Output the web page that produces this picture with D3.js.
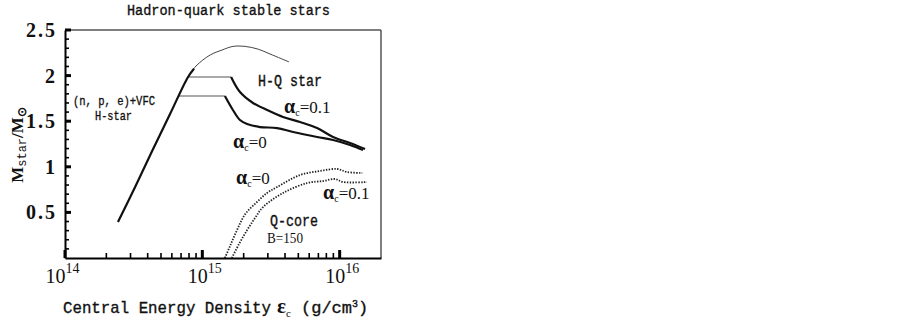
<!DOCTYPE html>
<html>
<head>
<meta charset="utf-8">
<script src="https://cdn.jsdelivr.net/npm/d3@7"></script>
<style>
  body { margin: 0; background: #fff; }
  text { font-family: "Liberation Mono", monospace; fill: #111; }
</style>
</head>
<body>
<div id="chart"></div>
<script>
// central energy density (g/cm^3) and mass (M_sun)

// (n,p,e)+VFC H-star branch, thick part
var hstar_eps = [2.43e14, 3.24e14, 4.31e14, 5.82e14, 7.87e14, 8.7e14];
var hstar_m   = [0.395, 0.778, 1.173, 1.579, 1.985, 2.075];
// thin continuation of the H-star branch
var hthin_eps = [7.87e14, 9.0e14, 1.14e15, 1.39e15, 1.67e15, 2.05e15, 2.55e15, 3.11e15, 4.28e15];
var hthin_m   = [1.985, 2.105, 2.226, 2.28, 2.32, 2.32, 2.29, 2.237, 2.15];

// H-Q star plateaus (mixed phase onset)
var plat01_eps = [7.87e14, 1.62e15];
var plat01_m   = [1.985, 1.985];
var plat0_eps  = [6.7e14, 1.46e15];
var plat0_m    = [1.776, 1.776];

// H-Q star, alpha_c = 0.1
var hq01_eps = [1.62e15, 1.88e15, 2.34e15, 2.96e15, 3.87e15, 5.15e15, 6.85e15, 8.95e15, 1.19e16, 1.53e16];
var hq01_m   = [1.985, 1.82, 1.70, 1.623, 1.546, 1.491, 1.425, 1.327, 1.261, 1.195];
// H-Q star, alpha_c = 0
var hq0_eps = [1.46e15, 1.67e15, 1.88e15, 2.12e15, 2.63e15, 3.50e15, 4.58e15, 6.85e15, 8.95e15, 1.19e16, 1.48e16];
var hq0_m   = [1.776, 1.623, 1.513, 1.469, 1.436, 1.425, 1.382, 1.327, 1.294, 1.239, 1.184];

// quark core mass, B=150
var qc0_eps = [1.46e15, 1.59e15, 1.79e15, 2.05e15, 2.50e15, 2.96e15, 3.50e15, 5.15e15, 7.20e15, 9.57e15, 1.13e16, 1.46e16];
var qc0_m   = [0.0, 0.13, 0.307, 0.48, 0.614, 0.713, 0.778, 0.91, 0.954, 0.976, 0.943, 0.932];
var qc01_eps = [1.64e15, 1.85e15, 2.12e15, 2.42e15, 2.77e15, 3.87e15, 5.80e15, 7.57e15, 9.25e15, 1.06e16, 1.58e16];
var qc01_m   = [0.0, 0.153, 0.307, 0.439, 0.559, 0.713, 0.822, 0.844, 0.866, 0.833, 0.833];

// axis ticks
var x_major = [1e14, 1e15, 1e16];
var x_labels = ["14", "15", "16"];
var y_major = [0.5, 1, 1.5, 2, 2.5];

var W = 903, H = 323;
var mLeft = 65, mRight = 381, mTop = 30, mBottom = 258;

var x = d3.scaleLog().domain([1e14, 2e16]).range([mLeft, mRight]);
var y = d3.scaleLinear().domain([0, 2.5]).range([mBottom, mTop]);

var svg = d3.select("#chart").append("svg")
  .attr("width", W)
  .attr("height", H)
  .style("background", "#fff");

function zip(a, b) { return a.map(function(d, i) { return [d, b[i]]; }); }

var line = d3.line()
  .x(function(d) { return x(d[0]); })
  .y(function(d) { return y(d[1]); })
  .curve(d3.curveCatmullRom);

// frame: top and right are lighter
svg.append("line").attr("x1", mLeft).attr("x2", mRight).attr("y1", mTop).attr("y2", mTop)
  .attr("stroke", "#555").attr("stroke-width", 1.5);
svg.append("line").attr("x1", mRight).attr("x2", mRight).attr("y1", mTop).attr("y2", mBottom)
  .attr("stroke", "#555").attr("stroke-width", 1.5);

// curves
function drawLine(xs, ys, width, color, dash) {
  svg.append("path")
    .datum(zip(xs, ys))
    .attr("d", line)
    .attr("fill", "none")
    .attr("stroke", color)
    .attr("stroke-width", width)
    .attr("stroke-dasharray", dash || null);
}

drawLine(hthin_eps, hthin_m, 1, "#444");
drawLine(plat01_eps, plat01_m, 1.1, "#555");
drawLine(plat0_eps, plat0_m, 1.1, "#555");
drawLine(hstar_eps, hstar_m, 2.2, "#111");
drawLine(hq01_eps, hq01_m, 2.2, "#111");
drawLine(hq0_eps, hq0_m, 2.2, "#111");
drawLine(qc0_eps, qc0_m, 1.8, "#222", "1.4,1.4");
drawLine(qc01_eps, qc01_m, 1.8, "#222", "1.4,1.4");

// inward tick marks, placed with the scales
var x_minor = [];
[1e14, 1e15].forEach(function(dec) {
  for (var k = 2; k <= 9; k++) x_minor.push(k * dec);
});
var y_minor = d3.range(1, 25).filter(function(i) { return i % 5 != 0; }).map(function(i) { return i / 10; });

function xTicks(vals, len, w) {
  svg.append("g").selectAll("line").data(vals).enter().append("line")
    .attr("x1", function(d) { return x(d); }).attr("x2", function(d) { return x(d); })
    .attr("y1", mBottom).attr("y2", mBottom - len)
    .attr("stroke", "#000").attr("stroke-width", w);
}
function yTicks(vals, len, w) {
  svg.append("g").selectAll("line").data(vals).enter().append("line")
    .attr("y1", function(d) { return y(d); }).attr("y2", function(d) { return y(d); })
    .attr("x1", mLeft).attr("x2", mLeft + len)
    .attr("stroke", "#000").attr("stroke-width", w);
}
xTicks(x_minor, 5, 1.6);
xTicks(x_major, 8, 3);
yTicks(y_minor, 4, 1.6);
yTicks(y_major, 6, 3);

// x axis line and 10^n labels
var gx = svg.append("g")
  .attr("transform", "translate(0," + mBottom + ")")
  .call(d3.axisBottom(x).tickValues(x_major).tickSize(0).tickPadding(0));
gx.select(".domain").attr("stroke", "#000").attr("stroke-width", 1.8);
gx.selectAll(".tick text").each(function(d, i) {
  var t = d3.select(this).text("").attr("y", 25).attr("dy", null)
    .attr("x", i == 0 ? -3 : 2)
    .style("font-family", "Liberation Serif, serif").style("font-size", "20px");
  t.append("tspan").text("10");
  t.append("tspan").text(x_labels[i]).attr("dy", -10).style("font-size", "14px");
});

// y axis line and labels
var gy = svg.append("g")
  .attr("transform", "translate(" + mLeft + ",0)")
  .call(d3.axisLeft(y).tickValues(y_major).tickSize(0).tickPadding(8)
    .tickFormat(function(d) { return Number.isInteger(d) ? d : d.toFixed(1); }));
gy.select(".domain").attr("stroke", "#000").attr("stroke-width", 2);
gy.selectAll(".tick text")
  .style("font-family", "Liberation Serif, serif")
  .style("font-size", "20px")
  .style("font-weight", "bold")
  .style("letter-spacing", "2px")
  .attr("fill", "#111");

// mono text, squeezed to the width it has in the figure
function mono(px, py, txt, size, len, anchor) {
  return svg.append("text").attr("x", px).attr("y", py)
    .style("text-anchor", anchor || "start")
    .style("font-size", size + "px")
    .attr("stroke", "#111").attr("stroke-width", 0.35)
    .attr("textLength", len).attr("lengthAdjust", "spacingAndGlyphs")
    .text(txt);
}

// title
mono(127, 15, "Hadron-quark stable stars", 14.5, 203);

// x axis title
mono(63, 313, "Central Energy Density", 17, 208);
var eps = svg.append("text").attr("x", 277).attr("y", 313)
  .style("font-family", "Liberation Serif, serif").style("font-weight", "bold");
eps.append("tspan").text("ε").style("font-size", "21px");
eps.append("tspan").text("c").attr("dy", 4).style("font-size", "11px").style("font-weight", "normal");
var unit = svg.append("text").attr("x", 301).attr("y", 313)
  .style("font-size", "17px").attr("stroke", "#111").attr("stroke-width", 0.35);
unit.append("tspan").text("(g/cm");
unit.append("tspan").text("3").attr("dy", -6).style("font-size", "10px");
unit.append("tspan").text(")").attr("dy", 6);

// y axis title
var yt = svg.append("text")
  .attr("transform", "translate(23,145) rotate(-90)")
  .style("text-anchor", "middle")
  .style("font-family", "Liberation Serif, serif")
  .style("font-size", "17px")
  .style("font-weight", "bold");
yt.append("tspan").text("M");
yt.append("tspan").text("star").attr("dy", 3).style("font-family", "Liberation Mono, monospace").style("font-weight", "normal").style("font-size", "12px");
yt.append("tspan").text("/M").attr("dy", -3);
yt.append("tspan").text("⊙").attr("dy", 3).style("font-size", "12px");

// annotations
mono(73, 105, "(n, p, e)+VFC", 13.5, 82);
mono(95, 120, "H-star", 13.5, 37);
mono(258, 86, "H-Q star", 16, 64);
mono(270, 226, "Q-core", 16, 48);
svg.append("text").attr("x", 267).attr("y", 243)
  .style("font-family", "Liberation Serif, serif").style("font-size", "14px")
  .attr("textLength", 36).attr("lengthAdjust", "spacingAndGlyphs")
  .text("B=150");

function alpha(px, py, val) {
  var t = svg.append("text").attr("x", px).attr("y", py)
    .style("font-family", "Liberation Serif, serif")
    .style("font-size", "17px");
  t.append("tspan").text("α").style("font-weight", "bold").style("font-size", "20px");
  t.append("tspan").text("c").attr("dy", 3).style("font-size", "10px");
  t.append("tspan").text("=" + val).attr("dy", -3);
}
alpha(284, 113, "0.1");
alpha(233, 148, "0");
alpha(236, 184, "0");
alpha(323, 199, "0.1");
</script>
</body>
</html>
